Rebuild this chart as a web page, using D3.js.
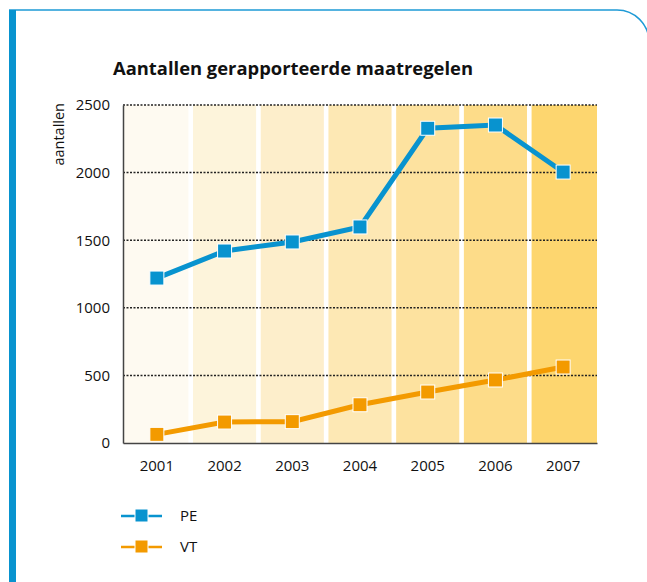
<!DOCTYPE html>
<html>
<head>
<meta charset="utf-8">
<script src="https://cdn.jsdelivr.net/npm/d3@7"></script>
<style>
  body { margin: 0; background: #fff; }
  svg { display: block; font-family: "Open Sans", "Noto Sans", sans-serif; }
</style>
</head>
<body>
<div id="chart"></div>
<script>
// Data
const years = ["2001", "2002", "2003", "2004", "2005", "2006", "2007"];
const peValues = [1220, 1420, 1487, 1598, 2328, 2352, 2004];
const vtValues = [64, 155, 158, 283, 377, 466, 562];
const yTicks = [0, 500, 1000, 1500, 2000, 2500];
const bandColors = ["#fefaf1", "#fdf4db", "#fdeecb", "#fde8b4", "#fde29f", "#fddc89", "#fdd66f"];
const seriesNames = ["PE", "VT"];
const seriesColors = ["#0893cf", "#f39a00"];

const width = 647;
const height = 582;
const plot = { left: 123, right: 597, top: 105, bottom: 443 };

const svg = d3.select("#chart")
  .append("svg")
  .attr("width", width)
  .attr("height", height);

// Frame: blue bar on the left, thin line on top with a rounded corner
const r = 32;
const frame = d3.path();
frame.moveTo(9, 10);
frame.lineTo(width - 30, 10);
frame.arc(width - 30, 10 + r, r, -Math.PI / 2, 0);
frame.lineTo(width - 30 + r, height);
svg.append("path")
  .attr("d", frame.toString())
  .attr("fill", "none")
  .attr("stroke", "#1e9ad6")
  .attr("stroke-width", 1.5);
svg.append("rect")
  .attr("x", 9).attr("y", 10)
  .attr("width", 7).attr("height", height - 10)
  .attr("fill", "#0893cf");

// Title
svg.append("text")
  .attr("x", 113)
  .attr("y", 75)
  .attr("font-size", 18.5)
  .attr("font-weight", 700)
  .attr("fill", "#111")
  .attr("textLength", 360)
  .attr("lengthAdjust", "spacingAndGlyphs")
  .text("Aantallen gerapporteerde maatregelen");

// Scales
const xScale = d3.scaleBand()
  .domain(years)
  .range([plot.left, plot.right])
  .padding(0);

const yScale = d3.scaleLinear()
  .domain([0, 2500])
  .range([plot.bottom, plot.top]);

const xCenter = (d) => xScale(d) + xScale.bandwidth() / 2;

// Background columns with white gaps between them
const gap = 2.3;
svg.append("g")
  .selectAll("rect")
  .data(years)
  .join("rect")
  .attr("x", (d, i) => xScale(d) + (i > 0 ? gap : 0))
  .attr("y", plot.top)
  .attr("width", (d, i) => xScale.bandwidth() - (i > 0 ? gap : 0) - (i < years.length - 1 ? gap : 0))
  .attr("height", plot.bottom - plot.top)
  .attr("fill", (d, i) => bandColors[i]);

// Dotted gridlines
svg.append("g")
  .selectAll("line")
  .data(yTicks.filter((t) => t > 0))
  .join("line")
  .attr("x1", plot.left)
  .attr("x2", plot.right)
  .attr("y1", (d) => yScale(d))
  .attr("y2", (d) => yScale(d))
  .attr("stroke", "#222")
  .attr("stroke-width", 1.5)
  .attr("stroke-dasharray", "2,1.5");

// Axes
const yAxis = d3.axisLeft(yScale)
  .tickValues(yTicks)
  .tickFormat(d3.format("d"))
  .tickSize(0)
  .tickPadding(13);
const yAxisG = svg.append("g")
  .attr("transform", `translate(${plot.left},0)`)
  .call(yAxis);
yAxisG.select(".domain").attr("stroke", "#444").attr("stroke-width", 1.5);
yAxisG.selectAll(".tick text")
  .attr("font-size", 15)
  .attr("font-family", "Open Sans, sans-serif")
  .attr("fill", "#111");

const xAxis = d3.axisBottom(xScale).tickSize(0).tickPadding(17);
const xAxisG = svg.append("g")
  .attr("transform", `translate(0,${plot.bottom})`)
  .call(xAxis);
xAxisG.select(".domain").attr("stroke", "#444").attr("stroke-width", 1.5);
xAxisG.selectAll(".tick text")
  .attr("font-size", 15)
  .attr("font-family", "Open Sans, sans-serif")
  .attr("fill", "#111");

// Y label
svg.append("text")
  .attr("transform", "translate(64,103) rotate(-90)")
  .attr("text-anchor", "end")
  .attr("font-size", 14.5)
  .attr("fill", "#111")
  .text("aantallen");

// Lines and markers
const line = d3.line()
  .x((d, i) => xCenter(years[i]))
  .y((d) => yScale(d));

const markerSize = 14;
[peValues, vtValues].forEach((values, s) => {
  const g = svg.append("g");
  g.append("path")
    .datum(values)
    .attr("d", line)
    .attr("fill", "none")
    .attr("stroke", seriesColors[s])
    .attr("stroke-width", 5);
  g.selectAll("rect")
    .data(values)
    .join("rect")
    .attr("x", (d, i) => xCenter(years[i]) - markerSize / 2)
    .attr("y", (d) => yScale(d) - markerSize / 2)
    .attr("width", markerSize)
    .attr("height", markerSize)
    .attr("fill", seriesColors[s])
    .attr("stroke", "#fff")
    .attr("stroke-width", 1);
});

// Legend
const legend = svg.append("g")
  .selectAll("g")
  .data(seriesNames)
  .join("g")
  .attr("transform", (d, i) => `translate(121,${516 + i * 31})`);
legend.append("line")
  .attr("x1", 0).attr("x2", 41)
  .attr("stroke", (d, i) => seriesColors[i])
  .attr("stroke-width", 2.5);
legend.append("rect")
  .attr("x", 14).attr("y", -7)
  .attr("width", 13).attr("height", 13)
  .attr("fill", (d, i) => seriesColors[i])
  .attr("stroke", "#fff")
  .attr("stroke-width", 1);
legend.append("text")
  .attr("x", 59)
  .attr("dy", "0.35em")
  .attr("font-size", 15)
  .attr("fill", "#111")
  .text((d) => d);
</script>
</body>
</html>
